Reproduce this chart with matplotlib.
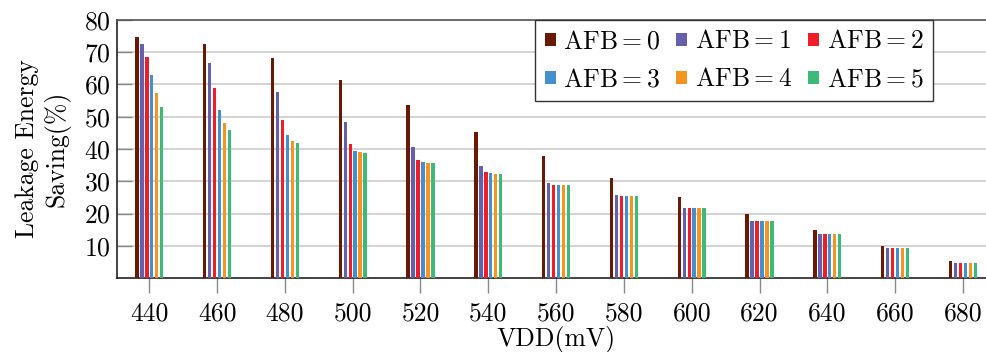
import matplotlib
matplotlib.use("Agg")
import matplotlib.pyplot as plt
from matplotlib.patches import Patch
import numpy as np

plt.rcParams['font.family'] = ['cmr10', 'DejaVu Serif']
plt.rcParams['mathtext.fontset'] = 'cm'
plt.rcParams['axes.formatter.use_mathtext'] = True

vdd = [440, 460, 480, 500, 520, 540, 560, 580, 600, 620, 640, 660, 680]
series_labels = [r'AFB$=$0', r'AFB$=$1', r'AFB$=$2', r'AFB$=$3', r'AFB$=$4', r'AFB$=$5']
afb0 = [74.6, 72.7, 68.3, 61.4, 53.5, 45.3, 37.7, 30.9, 25.2, 19.9, 14.9, 10.0, 5.3]
afb1 = [72.6, 66.7, 57.7, 48.3, 40.6, 34.6, 29.6, 25.6, 21.8, 17.7, 13.6, 9.3, 4.7]
afb2 = [68.4, 58.8, 49.0, 41.7, 36.6, 32.8, 28.9, 25.3, 21.7, 17.6, 13.6, 9.3, 4.7]
afb3 = [62.9, 52.2, 44.3, 39.5, 36.0, 32.5, 28.9, 25.3, 21.7, 17.6, 13.6, 9.3, 4.7]
afb4 = [57.5, 48.0, 42.5, 39.0, 35.8, 32.4, 28.9, 25.3, 21.7, 17.6, 13.6, 9.3, 4.7]
afb5 = [53.0, 45.9, 41.9, 38.9, 35.8, 32.4, 28.9, 25.3, 21.7, 17.6, 13.6, 9.3, 4.7]
colors = ['#6a1a04', '#6460ac', '#ee1d27', '#4490cf', '#f7941f', '#3cba78']

series = [afb0, afb1, afb2, afb3, afb4, afb5]
FS = 18.5

fig = plt.figure(figsize=(9.86, 3.52), dpi=100)
ax = fig.add_axes([0.1184, 0.2102, 0.8912, 0.7330])

pitch = 1.46
width = 1.0
x = np.array(vdd, dtype=float)
for i, (vals, col) in enumerate(zip(series, colors)):
    offs = (i - 2.5) * pitch
    ax.bar(x + offs, vals, width=width, color=col, linewidth=0, zorder=3)

ax.set_xlim(430.4, 689.6)
ax.set_ylim(0, 80)
ax.set_xticks(vdd)
ax.set_xticklabels([str(v) for v in vdd])
ax.set_yticks(range(10, 81, 10))
ax.yaxis.grid(True, color='#c8c8c8', linewidth=1.1, zorder=0)
ax.set_axisbelow(True)

ax.tick_params(axis='x', direction='out', length=11, width=1, color='#888888',
               labelsize=FS, pad=6)
ax.tick_params(axis='y', direction='in', length=11, width=1, color='#888888',
               labelsize=FS, pad=4)

for s in ['left', 'bottom']:
    ax.spines[s].set_color('#222222')
    ax.spines[s].set_linewidth(1.2)
ax.spines['top'].set_color('#555555')
ax.spines['top'].set_linewidth(1.2)
ax.spines['right'].set_color('#555555')

ax.set_xlabel('VDD(mV)', fontsize=FS, labelpad=0.5)
ax.set_ylabel('Leakage Energy\nSaving(%)', fontsize=FS, labelpad=10, linespacing=1.25)

# legend filled row by row: reorder for matplotlib's column-major layout
order = [0, 3, 1, 4, 2, 5]
handles = [Patch(facecolor=colors[k], edgecolor='none') for k in order]
labels = [series_labels[k] for k in order]
leg = ax.legend(handles, labels, ncol=3, loc='upper right',
                bbox_to_anchor=(933 / 986, 1 - 20 / 352), bbox_transform=fig.transFigure,
                fontsize=FS, frameon=True, fancybox=False, framealpha=1,
                edgecolor='#333333', handlelength=0.42, handleheight=0.42,
                handletextpad=0.3, columnspacing=0.62, borderpad=0.38,
                labelspacing=0.55, borderaxespad=0)
leg.get_frame().set_linewidth(1.0)

fig.savefig('out.png', dpi=100)
